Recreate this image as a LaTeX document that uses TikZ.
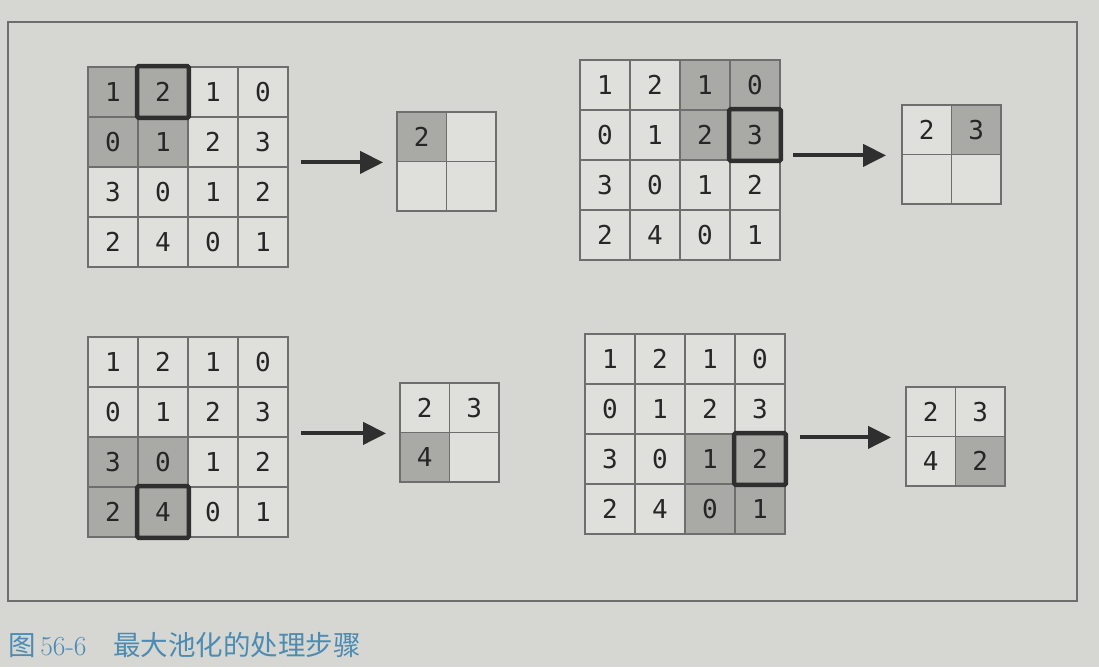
\documentclass[tikz,border=0pt]{standalone}
\usepackage{fontspec}
\newfontfamily\digits{DejaVu Sans Mono}
\newfontfamily\cjk{Noto Sans CJK SC}
\usetikzlibrary{arrows.meta}

\definecolor{paper}{HTML}{D6D7D3}
\definecolor{lightcell}{HTML}{DFDFDB}
\definecolor{darkcell}{HTML}{A9A9A5}
\definecolor{gridline}{HTML}{6E6E6E}
\definecolor{pickline}{HTML}{2F2F2F}
\definecolor{capblue}{HTML}{4C8BB2}

\tikzset{
  cell/.style={draw=gridline, line width=1.8pt, minimum size=#1, inner sep=0pt,
    fill=lightcell, text=black!85, font=\digits\fontsize{26}{26}\selectfont},
  cell/.default=50pt,
  shade0/.style={},
  shade1/.style={fill=darkcell},
  pick/.style={draw=pickline, line width=4.5pt, rounded corners=1.5pt},
  arr/.style={draw=pickline, line width=4pt, -{Triangle[length=23pt,width=22pt]}}
}

\newcommand{\ingrid}[5]{%
  \foreach \v [count=\k from 0] in {1,2,1,0,0,1,2,3,3,0,1,2,2,4,0,1} {
    \pgfmathtruncatemacro{\gr}{floor(\k/4)}
    \pgfmathtruncatemacro{\gc}{mod(\k,4)}
    \pgfmathtruncatemacro{\gs}{and(and(\gr>=#4,\gr<=#4+1),and(\gc>=#5,\gc<=#5+1))}
    \node[cell, shade\gs] (#1-\gr-\gc) at (#2+\gc*50+25, #3+\gr*50+25) {\v};
  }
}

\newcommand{\outgrid}[5]{%
  \foreach \v [count=\k from 0] in {#5} {
    \pgfmathtruncatemacro{\gr}{floor(\k/2)}
    \pgfmathtruncatemacro{\gc}{mod(\k,2)}
    \pgfmathtruncatemacro{\gs}{\k==#4}
    \node[cell=49.5pt, shade\gs] (#1-\gr-\gc) at (#2+\gc*49.5+24.75, #3+\gr*49.5+24.75) {\v};
  }
}

\begin{document}
\begin{tikzpicture}[x=1pt,y=-1pt]

  \fill[paper] (0,0) rectangle (1099,667);
  \useasboundingbox (0,0) rectangle (1099,667);
  \draw[gridline, line width=1.2pt] (8,22) rectangle (1077,601);

  \ingrid{in1}{88}{67}{0}{0}
  \outgrid{out1}{397}{112}{0}{2,{},{},{}}
  \draw[pick] (in1-0-1.north west) rectangle (in1-0-1.south east);
  \draw[arr] ([xshift=12pt]in1-1-3.east |- out1-0-0.south west) -- ([xshift=-13pt]out1-0-0.south west);

  \ingrid{in2}{580}{60}{0}{2}
  \outgrid{out2}{902}{105}{1}{2,3,{},{}}
  \draw[pick] (in2-1-3.north west) rectangle (in2-1-3.south east);
  \draw[arr] ([xshift=12pt]in2-1-3.east |- out2-0-0.south west) -- ([xshift=-15pt]out2-0-0.south west);

  \ingrid{in3}{88}{337}{2}{0}
  \outgrid{out3}{400}{383}{2}{2,3,4,{}}
  \draw[pick] (in3-3-1.north west) rectangle (in3-3-1.south east);
  \draw[arr] ([xshift=12pt]in3-1-3.east |- out3-0-0.south west) -- ([xshift=-13pt]out3-0-0.south west);

  \ingrid{in4}{585}{334}{2}{2}
  \outgrid{out4}{906}{387}{3}{2,3,4,2}
  \draw[pick] (in4-2-3.north west) rectangle (in4-2-3.south east);
  \draw[arr] ([xshift=14pt]in4-1-3.east |- out4-0-0.south west) -- ([xshift=-14pt]out4-0-0.south west);

  \node[anchor=base west, inner sep=0pt, text=capblue, font=\fontsize{27.5}{27.5}\selectfont]
    (caption) at (8,655) {\cjk 图\,{\rmfamily 56-6}\hspace{27pt}最大池化的处理步骤};

\end{tikzpicture}
\end{document}
